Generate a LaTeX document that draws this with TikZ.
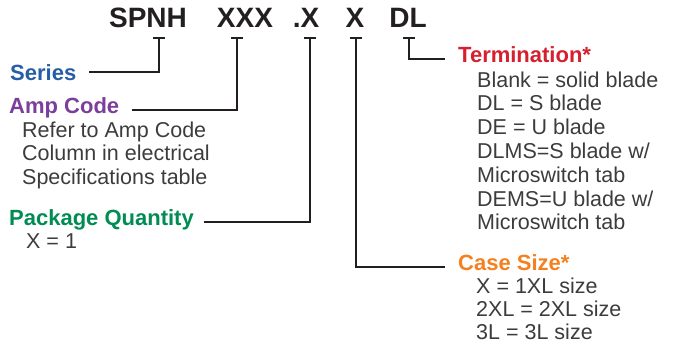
\documentclass[tikz,border=0pt]{standalone}
\usepackage{fontspec}
\setmainfont{Liberation Sans}
\usepackage{xcolor}
\usepackage{tikz}
\usetikzlibrary{calc}

\definecolor{ink}{RGB}{35,31,32}
\definecolor{bodygray}{RGB}{60,60,60}
\definecolor{seriesblue}{RGB}{38,94,166}
\definecolor{amppurple}{RGB}{123,63,155}
\definecolor{qtygreen}{RGB}{0,140,82}
\definecolor{termred}{RGB}{213,32,48}
\definecolor{caseorange}{RGB}{245,128,32}

\tikzset{
  head/.style={anchor=base,inner sep=0pt,text=ink,font=\fontsize{28bp}{30bp}\selectfont\bfseries},
  title/.style={anchor=base west,inner sep=0pt,font=\fontsize{22bp}{24bp}\selectfont\bfseries},
  body/.style={anchor=base west,inner sep=0pt,text=bodygray,font=\fontsize{21.5bp}{23.8bp}\selectfont},
  lead/.style={draw=ink,line width=1.8bp},
}

\begin{document}
\begin{tikzpicture}[x=1bp,y=-1bp]
  \useasboundingbox (0,0) rectangle (676,343);

  % part number
  \node[head] (spnh) at (148,27) {SPNH};
  \node[head] (amp)  at (245,27) {XXX};
  \node[head] (qty)  at (306,27) {.X};
  \node[head] (size) at (355,27) {X};
  \node[head] (term) at (408,27) {DL};

  % tick tops
  \coordinate (tSeries) at (159,38);
  \coordinate (tAmp)    at (237,38);
  \coordinate (tQty)    at (310,38);
  \coordinate (tSize)   at (356,38);
  \coordinate (tTerm)   at (409,38);

  % left side labels
  \node[title,text=seriesblue] (series) at (10,80) {Series};
  \node[title,text=amppurple] (ampcode) at (9,113) {Amp Code};
  \node[body] (ampnote) at (22,137) {\begin{tabular}[t]{@{}l@{}}Refer to Amp Code\\ Column in electrical\\ Specifications table\end{tabular}};
  \node[title,text=qtygreen] (pkgqty) at (9,225) {Package Quantity};
  \node[body] (qtynote) at (26,248) {X = 1};

  % right side labels
  \node[title,text=termred] (termination) at (458,62) {Termination*};
  \node[body] (termnote) at (477,87) {\begin{tabular}[t]{@{}l@{}}Blank = solid blade\\ DL = S blade\\ DE = U blade\\ DLMS=S blade w/\\ Microswitch tab\\ DEMS=U blade w/\\ Microswitch tab\end{tabular}};
  \node[title,text=caseorange] (casesize) at (458,270) {Case Size*};
  \node[body,font=\fontsize{21.5bp}{23.2bp}\selectfont] (casenote) at (476,293) {\begin{tabular}[t]{@{}l@{}}X = 1XL size\\ 2XL = 2XL size\\ 3L = 3L size\end{tabular}};

  % leaders
  \foreach \t in {tSeries,tAmp,tQty,tSize,tTerm}
    \draw[lead] ([xshift=-6]\t) -- ([xshift=6]\t);
  \draw[lead] (tSeries) |- ([xshift=13]series.east);
  \draw[lead] (tAmp) |- ([xshift=13]ampcode.mid east);
  \draw[lead] (tQty) |- ([xshift=10]pkgqty.mid east);
  \draw[lead] (tSize) |- ([xshift=-13]casesize.mid west);
  \draw[lead] (tTerm) |- ([xshift=-13]termination.mid west);
\end{tikzpicture}
\end{document}
